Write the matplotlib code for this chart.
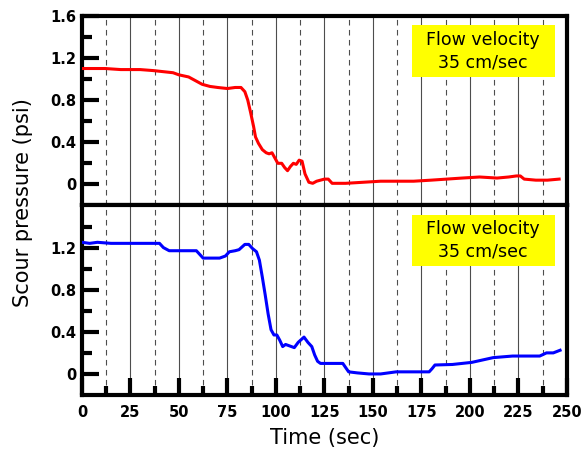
import matplotlib
matplotlib.use("Agg")
import matplotlib.pyplot as plt
from matplotlib.patches import Rectangle
from matplotlib.ticker import MultipleLocator, FixedLocator, FixedFormatter

# upper panel (red)
t_top = [0, 5, 12, 20, 25, 30, 37, 42, 47, 50,
         55, 58, 62, 66, 70, 75, 79, 82, 84, 85.5,
         87, 88.5, 89.5, 91, 93, 95, 96.5, 98, 99.5, 101,
         103, 104.5, 106, 107.5, 109, 110.5, 112, 113.5, 115, 117,
         119, 121, 123, 125, 127, 129, 131, 136, 145, 154,
         162, 171, 180, 188, 196, 205, 214, 220, 224, 226,
         228, 234, 240, 246]
p_top = [1.10, 1.10, 1.10, 1.09, 1.09, 1.09, 1.08, 1.07, 1.06, 1.04,
         1.02, 0.99, 0.95, 0.93, 0.92, 0.91, 0.92, 0.92, 0.88, 0.80,
         0.68, 0.55, 0.45, 0.39, 0.33, 0.30, 0.29, 0.30, 0.25, 0.20,
         0.20, 0.16, 0.13, 0.17, 0.20, 0.19, 0.23, 0.22, 0.10, 0.02,
         0.01, 0.03, 0.04, 0.05, 0.05, 0.01, 0.01, 0.01, 0.02, 0.03,
         0.03, 0.03, 0.04, 0.05, 0.06, 0.07, 0.06, 0.07, 0.08, 0.08,
         0.05, 0.04, 0.04, 0.05]

# lower panel (blue)
t_bot = [0, 4, 8, 15, 25, 35, 40, 42, 45, 50,
         55, 59, 61, 62.5, 66, 71, 74, 76, 79, 81,
         84, 86, 88, 90, 91.5, 93, 94.5, 96, 97.5, 99,
         100.5, 102, 103.5, 105, 106.5, 108, 109.5, 111.5, 114.5, 116.5,
         118.5, 120, 121.5, 123, 128, 134.5, 136, 137.5, 142, 148,
         154, 162, 170, 179, 180.5, 182, 191, 201, 212, 222,
         236, 239.5, 243, 246.5]
p_bot = [1.25, 1.24, 1.25, 1.24, 1.24, 1.24, 1.24, 1.20, 1.17, 1.17,
         1.17, 1.17, 1.13, 1.10, 1.10, 1.10, 1.12, 1.16, 1.17, 1.18,
         1.23, 1.23, 1.19, 1.16, 1.08, 0.92, 0.75, 0.57, 0.42, 0.37,
         0.37, 0.32, 0.26, 0.28, 0.27, 0.26, 0.25, 0.30, 0.35, 0.30,
         0.26, 0.18, 0.12, 0.10, 0.10, 0.10, 0.06, 0.02, 0.01, 0.00,
         0.00, 0.02, 0.02, 0.02, 0.05, 0.085, 0.09, 0.11, 0.155, 0.17,
         0.17, 0.20, 0.20, 0.225]

x_ticks = [0, 25, 50, 75, 100, 125, 150, 175, 200, 225, 250]
y_ticks_top = [0, 0.4, 0.8, 1.2, 1.6]
y_labels_top = ['0', '0.4', '0.8', '1.2', '1.6']
y_ticks_bot = [0, 0.4, 0.8, 1.2]
y_labels_bot = ['0', '0.4', '0.8', '1.2']
box_text = "Flow velocity\n35 cm/sec"

fig, (ax1, ax2) = plt.subplots(2, 1, figsize=(5.85, 4.53), dpi=100)
fig.subplots_adjust(left=0.14, right=0.969, top=0.965, bottom=0.128, hspace=0)

tick_font = dict(family='DejaVu Sans', weight='bold', size=10.5)


def style_axis(ax, yt, yl):
    ax.set_xlim(0, 250)
    ax.set_ylim(-0.2, 1.6)
    for s in ax.spines.values():
        s.set_linewidth(3)
    ax.xaxis.set_major_locator(FixedLocator(x_ticks))
    ax.xaxis.set_minor_locator(MultipleLocator(12.5))
    ax.yaxis.set_major_locator(FixedLocator(yt))
    ax.yaxis.set_major_formatter(FixedFormatter(yl))
    ax.yaxis.set_minor_locator(FixedLocator([-0.2 + 0.4 * k for k in range(1, 5)]))
    ax.grid(True, axis='x', which='major', ls='-', color='0.3', lw=0.8)
    ax.grid(True, axis='x', which='minor', ls=(0, (5, 4)), color='0.3', lw=0.8)
    ax.tick_params(axis='y', which='major', direction='in', length=12, width=3,
                   right=False, pad=4)
    ax.tick_params(axis='y', which='minor', direction='in', length=7, width=3,
                   right=False)
    for lab in ax.get_yticklabels():
        lab.set_fontproperties(matplotlib.font_manager.FontProperties(**tick_font))
    # yellow label box
    ax.add_patch(Rectangle((0.680, 0.678), 0.295, 0.274, transform=ax.transAxes,
                           facecolor='#ffff00', edgecolor='none', zorder=4))
    ax.text(0.8275, 0.815, box_text, transform=ax.transAxes, ha='center', va='center',
            fontsize=12.5, family='DejaVu Sans', linespacing=1.3, zorder=5)


style_axis(ax1, y_ticks_top, y_labels_top)
style_axis(ax2, y_ticks_bot, y_labels_bot)

ax1.plot(t_top, p_top, color='#ff0000', lw=2.2, zorder=3)
ax2.plot(t_bot, p_bot, color='#0000ff', lw=2.2, zorder=3)

ax1.tick_params(axis='x', which='both', length=0, labelbottom=False, top=False)
ax2.tick_params(axis='x', which='major', direction='in', length=12, width=3,
                top=False, pad=7)
ax2.tick_params(axis='x', which='minor', direction='in', length=6.5, width=3,
                top=False)
for lab in ax2.get_xticklabels():
    lab.set_fontproperties(matplotlib.font_manager.FontProperties(**tick_font))

ax2.set_xlabel('Time (sec)', fontsize=15, family='DejaVu Sans', labelpad=6)
fig.text(0.04, 0.552, 'Scour pressure (psi)', rotation=90, ha='center', va='center',
         fontsize=15, family='DejaVu Sans')

fig.savefig('out.png', dpi=100)
